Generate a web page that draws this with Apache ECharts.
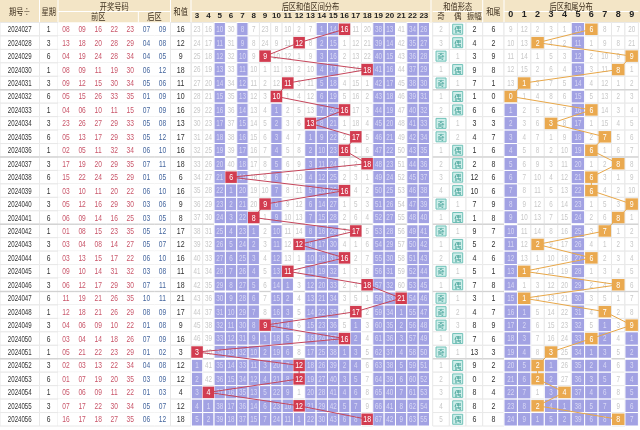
<!DOCTYPE html>
<html><head><meta charset="utf-8">
<script src="https://cdn.jsdelivr.net/npm/echarts@6/dist/echarts.min.js"></script>
<style>html,body{margin:0;padding:0;background:#fff}#c{width:640px;height:430px}</style>
</head><body><div id="c"></div>
<script>
// ---------------- data ----------------
const periods = ['2024027','2024028','2024029','2024030','2024031','2024032','2024033','2024034','2024035','2024036','2024037','2024038','2024039','2024040','2024041','2024042','2024043','2024044','2024045','2024046','2024047','2024048','2024049','2024050','2024051','2024052','2024053','2024054','2024055','2024056'];
const weekdays = [1,3,6,1,3,6,1,3,6,1,3,6,1,3,6,1,3,6,1,3,6,1,3,6,1,3,6,1,3,6];
const frontZone = [
 [8,9,16,22,23],[13,18,20,28,29],[4,19,24,28,34],[8,9,11,19,30],[9,12,15,30,34],
 [5,15,26,33,35],[4,6,10,11,15],[23,26,27,29,33],[5,13,17,29,33],[2,5,11,32,34],
 [17,19,20,29,35],[15,22,24,25,29],[3,10,11,20,22],[5,12,16,29,30],[6,9,14,16,25],
 [1,8,15,23,35],[3,4,8,14,27],[3,13,15,17,22],[9,10,14,31,32],[6,12,17,29,30],
 [11,19,21,26,35],[12,18,21,26,29],[4,6,9,10,22],[3,4,14,18,26],[5,21,22,23,29],
 [2,3,13,22,34],[1,7,19,20,35],[5,6,9,11,22],[7,17,22,30,34],[16,17,18,27,35]];
const backZone = [[7,9],[4,8],[4,5],[6,12],[5,6],[1,9],[7,9],[5,8],[5,12],[6,10],[7,11],[1,5],[6,10],[3,6],[3,5],[5,12],[5,7],[6,10],[3,8],[7,11],[10,11],[8,9],[1,8],[7,9],[1,2],[4,8],[3,9],[1,3],[5,7],[6,12]];
const sumValues = [16,12,9,18,11,10,16,13,17,16,18,6,16,9,8,17,12,16,11,18,21,17,9,16,3,12,12,4,12,18];
const amplitudes = [2,4,3,9,7,1,6,3,4,1,2,12,10,7,1,9,5,4,5,7,3,4,8,7,13,9,0,8,8,6];
const sumTails = [6,2,9,8,1,0,6,3,7,6,8,6,6,9,8,7,2,6,1,8,1,7,9,6,3,2,2,4,2,8];
const sumRange = [3,4,5,6,7,8,9,10,11,12,13,14,15,16,17,18,19,20,21,22,23];
const tailRange = [0,1,2,3,4,5,6,7,8,9];
const parityLabels = ['奇','偶','振幅'];
// omission counts shown in the first row (2024027)
const sumMissFirstRow = [23,16,10,30,8,7,23,8,10,2,7,1,14,0,11,20,38,13,41,34,26];
const tailMissFirstRow = [9,12,2,3,1,10,0,8,7,20];
const parityMissFirstRow = [2,0];

// ---------------- layout / style ----------------
const FONT_NUM = '"Liberation Sans",Arial,sans-serif';
const FONT_CJK = '"Noto Sans CJK SC",sans-serif';
const TOP = 22.5, HEIGHT = 403.5;
const PURPLE = '#a2a2e3', GRID_LINE = '#e8e8e8';
const sections = [
  {left:0, width:39.5, cols:['期号']},
  {left:39.5, width:18.5, cols:['星期']},
  {left:58, width:112.5, cols:['1','2','3','4','5','6','7'], hOnly:true},
  {left:170.5, width:20.5, cols:['和值']},
  {left:191.4, width:238.1, cols:sumRange.map(String), labels:true},
  {left:432.7, width:50, cols:parityLabels, labels:true},
  {left:482.7, width:21.3, cols:['和尾']},
  {left:504, width:134.4, cols:tailRange.map(String), labels:true}
];
const N = periods.length;

function omission(values, range, firstRow) {
  const out = [];
  for (let r = 0; r < N; r++) {
    out.push(range.map((c, ci) => {
      if (r === 0) return firstRow[ci];
      return values[r - 1] === c ? 1 : out[r - 1][ci] + 1;
    }));
  }
  return out;
}
function lastHit(values, c) { let l = -1; values.forEach((v, i) => { if (v === c) l = i; }); return l; }

const sumMiss = omission(sumValues, sumRange, sumMissFirstRow);
const tailMiss = omission(sumTails, tailRange, tailMissFirstRow);
const parityVals = sumValues.map(v => v % 2 === 1 ? 0 : 1);
const parityMiss = omission(parityVals, [0, 1], parityMissFirstRow);

const pad = n => (n < 10 ? '0' : '') + n;
const F9 = '9px ' + FONT_NUM, F8 = '8.5px ' + FONT_NUM;
const cellSets = sections.map(() => []);
for (let r = 0; r < N; r++) {
  cellSets[0].push({c:0, r, text:periods[r], color:'#333', font:F9, sx:0.68});
  cellSets[1].push({c:0, r, text:String(weekdays[r]), color:'#333', font:F9, sx:0.75});
  frontZone[r].forEach((n, i) => cellSets[2].push({c:i, r, text:pad(n), color:'#c9566a', font:F9, sx:0.74}));
  backZone[r].forEach((n, i) => cellSets[2].push({c:5 + i, r, text:pad(n), color:'#46679f', font:F9, sx:0.74}));
  cellSets[3].push({c:0, r, text:String(sumValues[r]), color:'#333', font:F9, sx:0.78});
  sumRange.forEach((c, ci) => {
    const hit = sumValues[r] === c;
    const shade = r > lastHit(sumValues, c);
    cellSets[4].push({c:ci, r, text: hit ? '' : String(sumMiss[r][ci]), shade,
      color: shade ? '#d8d8f5' : '#c8c8c8', font:F8, sx:0.74});
  });
  [0, 1].forEach(ci => {
    const hit = parityVals[r] === ci;
    cellSets[5].push({c:ci, r, text: hit ? parityLabels[ci] : String(parityMiss[r][ci]), badge: hit,
      color: hit ? '#3f9f95' : '#c8c8c8', font: hit ? '7px ' + FONT_CJK : F8, sx: hit ? 1 : 0.74});
  });
  cellSets[5].push({c:2, r, text:String(amplitudes[r]), color:'#333', font:F9, sx:0.78});
  cellSets[6].push({c:0, r, text:String(sumTails[r]), color:'#333', font:F9, sx:0.78});
  tailRange.forEach((c, ci) => {
    const hit = sumTails[r] === c;
    const shade = r > lastHit(sumTails, c);
    cellSets[7].push({c:ci, r, text: hit ? '' : String(tailMiss[r][ci]), shade,
      color: shade ? '#d8d8f5' : '#c8c8c8', font:F8, sx:0.74});
  });
}

function cellSeries(si) {
  const cells = cellSets[si];
  const hOnly = sections[si].hOnly;
  return {
    type:'custom', xAxisIndex:si, yAxisIndex:si, silent:true, animation:false, z:2,
    data: cells.map(d => [d.c, d.r]),
    renderItem(params, api) {
      const d = cells[params.dataIndex];
      const p = api.coord([d.c, d.r]);
      const s = api.size([1, 1]);
      const x0 = p[0] - s[0] / 2, y0 = p[1] - s[1] / 2;
      const ch = [];
      ch.push({type:'rect', z2: d.shade ? 2 : 1,
        shape:{x:x0, y:y0, width:s[0], height:s[1]},
        style:{fill: d.shade ? PURPLE : '#fff', stroke: hOnly ? null : (d.shade ? '#fff' : GRID_LINE), lineWidth:1}});
      if (hOnly) ch.push({type:'line', z2:1, shape:{x1:x0, y1:y0 + s[1], x2:x0 + s[0], y2:y0 + s[1]}, style:{stroke:GRID_LINE, lineWidth:1}});
      if (d.r % 5 === 0 && d.r > 0) {
        ch.push({type:'line', z2:4, shape:{x1:x0, y1:y0, x2:x0 + s[0], y2:y0},
          style:{stroke: d.shade ? '#fff' : '#d2d2d2', lineWidth: d.shade ? 2 : 1.3}});
      }
      if (d.badge) {
        ch.push({type:'rect', z2:5, shape:{x:p[0] - 5, y:p[1] - 5, width:10, height:10},
          style:{fill:'#cfeeea', stroke:'#6fc2b8', lineWidth:1}});
      }
      if (d.text !== '') {
        ch.push({type:'text', z2:6, x:p[0], y:p[1] + 0.5, scaleX: d.sx || 1,
          style:{text:d.text, fill:d.color, font:d.font, align:'center', verticalAlign:'middle'}});
      }
      return {type:'group', children:ch};
    }
  };
}

// hit boxes (drawn above the connecting line)
function hitSeries(si, values, range, fill, w, h) {
  return {
    type:'custom', xAxisIndex:si, yAxisIndex:si, silent:true, animation:false, z:6,
    data: values.map((v, i) => [range.indexOf(v), i]),
    renderItem(params, api) {
      const p = api.coord([api.value(0), api.value(1)]);
      return {type:'group', children:[
        {type:'rect', shape:{x:p[0] - w / 2, y:p[1] - h / 2, width:w, height:h}, style:{fill}},
        {type:'text', x:p[0], y:p[1] + 0.5, scaleX:0.78,
          style:{text:String(values[params.dataIndex]), fill:'#fff', font:'9px ' + FONT_NUM, align:'center', verticalAlign:'middle'}}
      ]};
    }
  };
}
function pathSeries(si, values, range, color) {
  return {
    type:'line', xAxisIndex:si, yAxisIndex:si, silent:true, animation:false, z:4,
    data: values.map((v, i) => [range.indexOf(v), i]),
    symbol:'none', lineStyle:{color, width:1}
  };
}

const grids = sections.map(s => ({left:s.left, width:s.width, top:TOP, height:HEIGHT, outerBoundsMode:'none', containLabel:false}));
const xAxes = sections.map((s, i) => ({
  type:'category', gridIndex:i, data:s.cols, position:'top', z:10,
  show: !!s.labels,
  axisLine:{show:false}, axisTick:{show:false}, splitLine:{show:false},
  axisLabel:{interval:0, margin:3, color:'#222', fontSize: i === 4 ? 8 : 9, fontWeight:'bold', fontFamily: FONT_NUM}
}));
xAxes[5].axisLabel = {interval:0, margin:3, color:'#3d2f1e', fontSize:7.5, fontWeight:'normal', fontFamily:FONT_CJK};
const yAxes = sections.map((s, i) => ({type:'category', gridIndex:i, data:periods, inverse:true, show:false}));

const series = sections.map((s, i) => cellSeries(i));
series.push(pathSeries(4, sumValues, sumRange, '#c6465b'));
series.push(hitSeries(4, sumValues, sumRange, '#d23c50', 11.5, 11.5));
series.push(pathSeries(7, sumTails, tailRange, '#e8a748'));
series.push(hitSeries(7, sumTails, tailRange, '#eaa94f', 12.5, 11.5));

// ---------------- header ----------------
const HB = '#f3e5c6', HT = '#3d2f1e';
const hText = (text, x, y) => ({type:'text', x, y, z:1, scaleX:0.8,
  style:{text, fill:HT, font:'9px ' + FONT_CJK, align:'center', verticalAlign:'middle'}});
const vLine = (x, y1, y2) => ({type:'line', z:1, shape:{x1:x, y1, x2:x, y2}, style:{stroke:'#fff', lineWidth:1}});
const hLine = (x1, x2, y) => ({type:'line', z:1, shape:{x1, y1:y, x2, y2:y}, style:{stroke:'#fff', lineWidth:1}});
const sec = i => sections[i];
const mid = i => sec(i).left + sec(i).width / 2;
const right = i => sec(i).left + sec(i).width;
const R1 = 11.5;
const colW2 = sec(2).width / 7;
const graphic = [
  {type:'rect', z:0, shape:{x:0, y:0, width:640, height:TOP}, style:{fill:HB}},
  vLine(right(0), 0, TOP), vLine(right(1), 0, TOP), vLine(right(2), 0, TOP), vLine(right(3), 0, TOP),
  vLine(right(4) + 1.5, 0, TOP), vLine(right(5), 0, TOP), vLine(right(6), 0, TOP),
  hLine(sec(2).left, right(2), R1), hLine(sec(4).left, right(4), R1),
  hLine(sec(5).left, right(5), R1), hLine(sec(7).left, right(7), R1),
  vLine(sec(2).left + colW2 * 5, R1, TOP),
  hText('期号÷', mid(0), TOP / 2), hText('星期', mid(1), TOP / 2),
  hText('开奖号码', mid(2), R1 / 2 + 0.5),
  hText('前区', sec(2).left + colW2 * 2.5, R1 + (TOP - R1) / 2),
  hText('后区', sec(2).left + colW2 * 6, R1 + (TOP - R1) / 2),
  hText('和值', mid(3), TOP / 2),
  hText('后区和值区间分布', mid(4), R1 / 2 + 0.5),
  hText('和值形态', mid(5), R1 / 2 + 0.5),
  hText('和尾', mid(6), TOP / 2),
  hText('后区和尾分布', mid(7), R1 / 2 + 0.5)
];

const chart = echarts.init(document.getElementById('c'));
chart.setOption({
  animation:false, backgroundColor:'#fff',
  grid:grids, xAxis:xAxes, yAxis:yAxes, series, graphic
});
</script></body></html>
